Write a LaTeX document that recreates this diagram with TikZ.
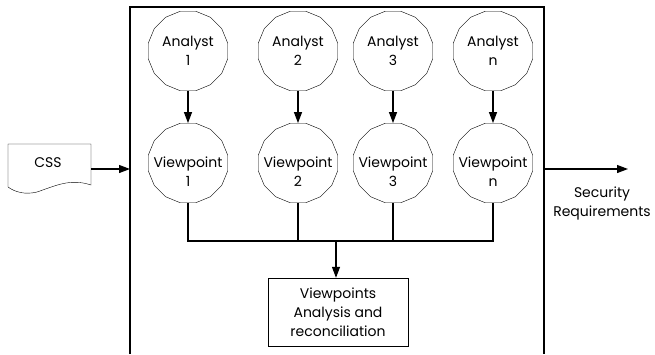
\documentclass[tikz,border=0pt]{standalone}
\usepackage{fontspec}
\setmainfont{Poppins}
\usetikzlibrary{arrows.meta,shapes.geometric,positioning}

\begin{document}
\begin{tikzpicture}[x=1pt,y=-1pt,>={Triangle[length=11pt,width=8pt]},
  bubble/.style={draw,thin,regular polygon,regular polygon sides=16,minimum size=81pt,inner sep=0pt},
  txt/.style={font=\fontsize{14}{19}\selectfont,align=center,inner sep=0pt},
  link/.style={line width=1.2pt}]
\useasboundingbox (0,0) rectangle (655,354);
\draw[line width=1.5pt] (130,354) -- (130,7) coordinate (frameTL) -- (544,7) coordinate (frameTR) -- (544,354);
\foreach \i/\x/\n in {1/188/1,2/298/2,3/393/3,4/493/n}{
  \node[bubble] (a\i) at (\x,51) {};
  \node[txt] at (a\i.center) {Analyst\\\n};
  \node[bubble] (v\i) at (\x,163) {};
  \node[txt] at ([yshift=-9pt]v\i.center) {Viewpoint\\\n};
  \draw[->,link] (a\i) -- (v\i);
}
\node[txt] (css) at (48,163) {CSS};
\draw[thin] (8,144) -- (91,144) -- (91,185) .. controls (70,178) and (55,186) .. (37,192) .. controls (25,195) and (15,192) .. (8,187) -- cycle;
\coordinate (cssR) at (91,169);
\draw[->,link] (cssR) -- (cssR -| frameTL);
\coordinate (outL) at (544,169);
\draw[->,link] (outL) -- ++(84,0);
\node[txt] (secreq) at (602,203) {Security\\Requirements};
\node[draw,thin,txt,minimum width=140pt,minimum height=68pt] (recon) at (338,312) {Viewpoints\\Analysis and\\reconciliation};
\draw[link] (v1.south) -- ++(0,38) coordinate (bus) -- (bus -| v4.south) -- (v4.south);
\draw[link] (v2.south) -- (v2.south |- bus);
\draw[link] (v3.south) -- (v3.south |- bus);
\draw[->,link] ([xshift=-2pt]recon.north |- bus) -- ([xshift=-2pt]recon.north);
\end{tikzpicture}
\end{document}
